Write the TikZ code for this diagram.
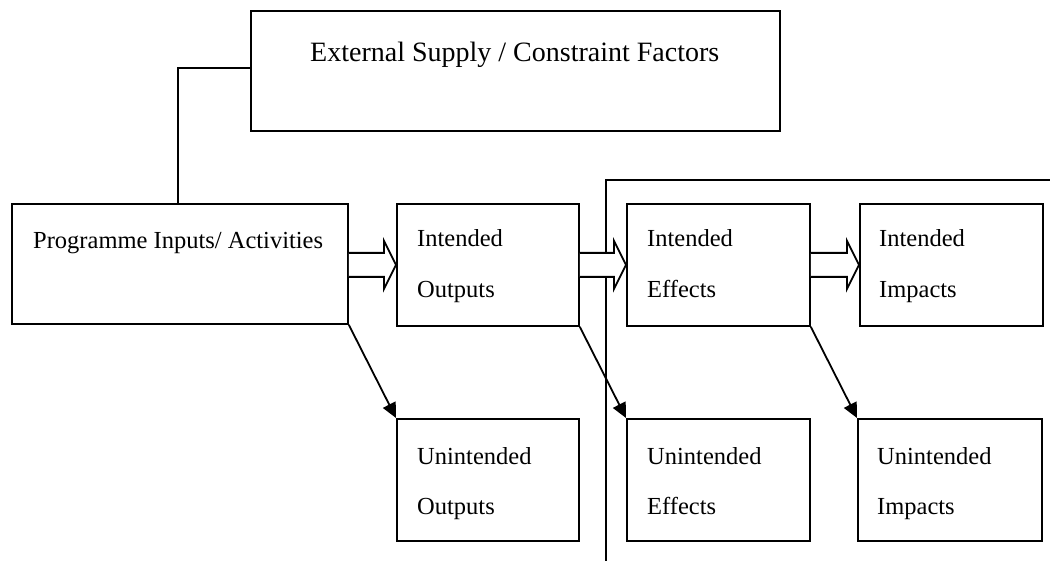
\documentclass[tikz,border=0pt]{standalone}
\usepackage{fontspec}
\setmainfont{Liberation Serif}
\usetikzlibrary{arrows.meta,calc}
\tikzset{
  box/.style={draw, line width=1.8pt, inner sep=0pt, anchor=north west},
  lbl/.style={anchor=base west, inner sep=0pt, font=\fontsize{24.5}{29}\selectfont},
  biglbl/.style={anchor=base west, inner sep=0pt, font=\fontsize{28}{33}\selectfont},
  line/.style={line width=1.8pt},
  diag/.style={line width=1.8pt, -{Triangle[length=15pt,width=14pt]}},
  blk/.style={line width=1.8pt, fill=white, line join=miter}
}
\newcommand{\blkarrow}[2]{%
  \draw[blk] ($(#1)+(0,12)$) -- ($(#2)+(-12,12)$) -- ($(#2)+(-12,24)$) -- (#2)
    -- ($(#2)+(-12,-24)$) -- ($(#2)+(-12,-12)$) -- ($(#1)+(0,-12)$);}
\begin{document}
\begin{tikzpicture}[x=1pt,y=-1pt]
\useasboundingbox (0,0) rectangle (1050,561);
% boxes
\node[box, minimum width=529pt, minimum height=120pt] (ext) at (250,10) {};
\node[box, minimum width=336pt, minimum height=120pt] (prog) at (11,203) {};
\node[box, minimum width=182pt, minimum height=122pt] (io) at (396,203) {};
\node[box, minimum width=183pt, minimum height=122pt] (ie) at (626,203) {};
\node[box, minimum width=183pt, minimum height=122pt] (ii) at (859,203) {};
\node[box, minimum width=182pt, minimum height=122pt] (uo) at (396,418) {};
\node[box, minimum width=183pt, minimum height=122pt] (ue) at (626,418) {};
\node[box, minimum width=184pt, minimum height=122pt] (ui) at (857,418) {};
% labels
\node[biglbl] (t1) at (310,62) {External Supply / Constraint Factors};
\node[lbl] (t2) at (33,249) {Programme Inputs/ Activities};
\node[lbl] (t3) at (417,247) {Intended};
\node[lbl] (t4) at (417,298) {Outputs};
\node[lbl] (t5) at (647,247) {Intended};
\node[lbl] (t6) at (647,298) {Effects};
\node[lbl] (t7) at (879,247) {Intended};
\node[lbl] (t8) at (879,298) {Impacts};
\node[lbl] (t9) at (417,464) {Unintended};
\node[lbl] (t10) at (417,514) {Outputs};
\node[lbl] (t11) at (647,464) {Unintended};
\node[lbl] (t12) at (647,514) {Effects};
\node[lbl] (t13) at (877,464) {Unintended};
\node[lbl] (t14) at (877,514) {Impacts};
% connector external -> programme
\coordinate (c1) at (178,68);
\draw[line] (ext.west |- c1) -- (c1) -- (c1 |- prog.north);
% bracket line
\coordinate (b0) at (606,561);
\coordinate (b1) at (606,180);
\coordinate (b2) at (1050,180);
\draw[line] (b0) -- (b1) -- (b2);
% block arrows
\coordinate (s1) at (prog.east |- io.west);
\blkarrow{s1}{io.west}
\coordinate (s2) at (io.east |- ie.west);
\blkarrow{s2}{ie.west}
\coordinate (s3) at (ie.east |- ii.west);
\blkarrow{s3}{ii.west}
% diagonal arrows
\draw[diag] (prog.south east) -- (uo.north west);
\draw[diag] (io.south east) -- (ue.north west);
\draw[diag] (ie.south east) -- (ui.north west);
\end{tikzpicture}
\end{document}
